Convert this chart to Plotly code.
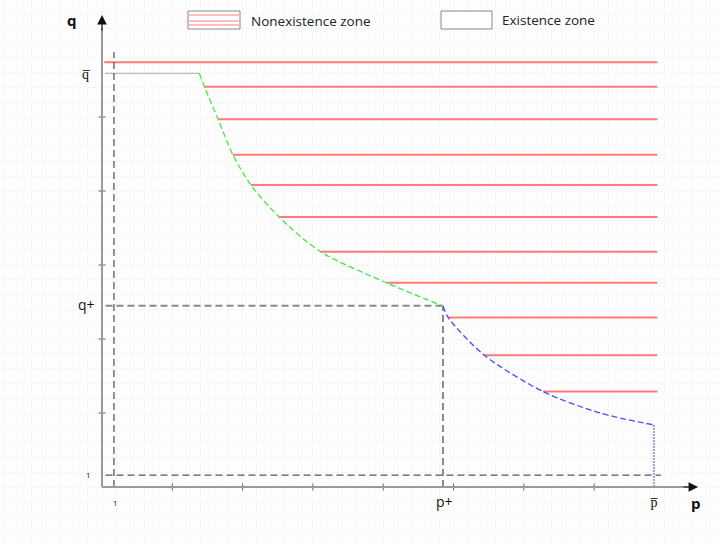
import plotly.graph_objects as go

# ---- data (abstract p/q units) ----
p_one = 0.17          # p = 1 reference line
q_one = 0.16          # q = 1 reference line
p_plus = 4.85
q_plus = 2.45
p_bar = 7.85
q_bar = 5.59

# boundary curve, first branch (green) from (p at q_bar) to (p+, q+)
green_p = [1.384, 1.460, 1.650, 1.863, 2.119, 2.518, 3.115, 4.054, 4.851]
green_q = [5.591, 5.405, 4.973, 4.486, 4.081, 3.649, 3.176, 2.757, 2.446]
# second branch (blue) from (p+, q+) to p_bar
blue_p = [4.851, 4.926, 5.434, 6.277, 7.084, 7.852]
blue_q = [2.446, 2.288, 1.784, 1.288, 1.000, 0.838]

# nonexistence-zone hatching: level and left end of each red line
hatch_q = [5.74, 5.41, 4.97, 4.49, 4.08, 3.65, 3.18, 2.76, 2.29, 1.78, 1.29]
hatch_p_start = [0.03, 1.45, 1.65, 1.86, 2.12, 2.52, 3.11, 4.05, 4.92, 5.43, 6.27]
hatch_p_end = 7.90

x_ticks = [1, 2, 3, 4, 5, 6, 7]
y_ticks = [1, 2, 3, 4, 5]

# ---- layout constants ----
W, H = 720, 543
X0, Y0 = 102, 487       # pixel of origin
SX, SY = 70.3, 74.0     # pixels per unit
x_range = [-X0 / SX, (W - X0) / SX]
y_range = [-(H - Y0) / SY, Y0 / SY]
FONT = "Open Sans"

fig = go.Figure()

# hatching
hx, hy = [], []
for q, ps in zip(hatch_q, hatch_p_start):
    hx += [ps, hatch_p_end, None]
    hy += [q, q, None]
fig.add_trace(go.Scatter(x=hx, y=hy, mode="lines",
                         line=dict(color="rgba(255,90,90,0.8)", width=2),
                         hoverinfo="skip", showlegend=False))

# reference dashed lines
fig.add_trace(go.Scatter(x=[p_one, p_one], y=[0, 5.88], mode="lines",
                         line=dict(color="#666", width=1.4, dash="7px,4px"),
                         showlegend=False))
fig.add_trace(go.Scatter(x=[0.05, 7.95], y=[q_one, q_one], mode="lines",
                         line=dict(color="#555", width=1.2, dash="7px,4px"),
                         showlegend=False))
fig.add_trace(go.Scatter(x=[0.05, p_plus], y=[q_plus, q_plus], mode="lines",
                         line=dict(color="#8a8a8a", width=2, dash="7px,4px"),
                         showlegend=False))
fig.add_trace(go.Scatter(x=[p_plus, p_plus], y=[0, q_plus], mode="lines",
                         line=dict(color="#8a8a8a", width=2, dash="7px,4px"),
                         showlegend=False))
# q_bar dotted segment
fig.add_trace(go.Scatter(x=[0.05, green_p[0]], y=[q_bar, q_bar], mode="lines",
                         line=dict(color="#5a5a8a", width=1, dash="1px,1px"),
                         showlegend=False))
# p_bar vertical dotted
fig.add_trace(go.Scatter(x=[p_bar, p_bar], y=[0, blue_q[-1]], mode="lines",
                         line=dict(color="#9aa6c0", width=2, dash="2px,1px"),
                         showlegend=False))

# boundary curves
fig.add_trace(go.Scatter(x=green_p, y=green_q, mode="lines", line_shape="spline",
                         line=dict(color="#44e844", width=1.3, dash="6px,3px", smoothing=0.8),
                         showlegend=False))
fig.add_trace(go.Scatter(x=blue_p, y=blue_q, mode="lines", line_shape="spline",
                         line=dict(color="#4a4aff", width=1.3, dash="6px,3px", smoothing=0.8),
                         showlegend=False))

# axes
axis_col = "#999"
fig.add_shape(type="line", x0=0, y0=0, x1=8.35, y1=0, line=dict(color=axis_col, width=2))
fig.add_shape(type="line", x0=0, y0=0, x1=0, y1=6.2, line=dict(color=axis_col, width=2))
fig.add_annotation(x=8.48, y=0, ax=8.25, ay=0, axref="x", ayref="y", xref="x", yref="y",
                   text="", showarrow=True, arrowhead=2, arrowsize=1.6, arrowwidth=1.2,
                   arrowcolor="#111")
fig.add_annotation(x=0, y=6.38, ax=0, ay=6.15, axref="x", ayref="y", xref="x", yref="y",
                   text="", showarrow=True, arrowhead=2, arrowsize=1.6, arrowwidth=1.2,
                   arrowcolor="#111")
# minor ticks
fig.add_trace(go.Scatter(x=x_ticks, y=[0] * len(x_ticks), mode="markers",
                         marker=dict(symbol="line-ns-open", size=5, color="#666",
                                     line=dict(color="#666", width=1)),
                         showlegend=False, hoverinfo="skip"))
fig.add_trace(go.Scatter(x=[0] * len(y_ticks), y=y_ticks, mode="markers",
                         marker=dict(symbol="line-ew-open", size=5, color="#666",
                                     line=dict(color="#666", width=1)),
                         showlegend=False, hoverinfo="skip"))

# axis labels / special tick labels
def lab(x, y, text, size=14, bold=False, xs=0, ys=0, xanchor="center"):
    fig.add_annotation(x=x, y=y, xref="x", yref="y", text=("<b>%s</b>" % text) if bold else text,
                       showarrow=False, xshift=xs, yshift=ys, xanchor=xanchor, yanchor="middle",
                       font=dict(family=FONT, size=size, color="#111"))

lab(0, 6.38, "q", size=15, bold=True, xs=-30, ys=-5)
lab(8.48, 0, "p", size=15, bold=True, xs=-2, ys=-16)
lab(0, q_bar, "q\u0305", xs=-16, ys=0)
lab(0, q_plus, "q+", xs=-16, ys=1)
lab(0, q_one, "1", size=8, xs=-14, ys=1)
lab(p_one, 0, "1", size=8, xs=2, ys=-15)
lab(p_plus, 0, "p+", xs=2, ys=-14)
lab(p_bar, 0, "p\u0305", xs=0, ys=-14)

# legend (drawn in paper coords)
def px(x):
    return x / W

def py(y):
    return 1 - y / H

fig.add_shape(type="rect", xref="paper", yref="paper", x0=px(188), x1=px(240), y0=py(29), y1=py(11),
              line=dict(color="#888", width=1), fillcolor="white")
for yy in [15, 21, 25]:
    fig.add_shape(type="line", xref="paper", yref="paper", x0=px(189), x1=px(239), y0=py(yy), y1=py(yy),
                  line=dict(color="rgba(255,90,90,0.8)", width=1))
fig.add_shape(type="rect", xref="paper", yref="paper", x0=px(441), x1=px(492), y0=py(29), y1=py(11),
              line=dict(color="#888", width=1), fillcolor="white")
fig.add_annotation(x=px(249), y=py(21), xref="paper", yref="paper", text="Nonexistence zone",
                   showarrow=False, xanchor="left", yanchor="middle",
                   font=dict(family=FONT, size=13.5, color="#222"))
fig.add_annotation(x=px(500), y=py(20), xref="paper", yref="paper", text="Existence zone",
                   showarrow=False, xanchor="left", yanchor="middle",
                   font=dict(family=FONT, size=13.5, color="#222"))

fig.update_layout(
    width=W, height=H, margin=dict(l=0, r=0, t=0, b=0),
    paper_bgcolor="white", plot_bgcolor="#fdfdfd",
    xaxis=dict(range=x_range, showgrid=True, gridcolor="#f7f7f7", dtick=0.2, tick0=0,
               zeroline=False, showticklabels=False, ticks="", fixedrange=True),
    yaxis=dict(range=y_range, showgrid=True, gridcolor="#f7f7f7", dtick=0.2, tick0=0,
               zeroline=False, showticklabels=False, ticks="", fixedrange=True),
    showlegend=False,
)

fig.write_html("out.html")
